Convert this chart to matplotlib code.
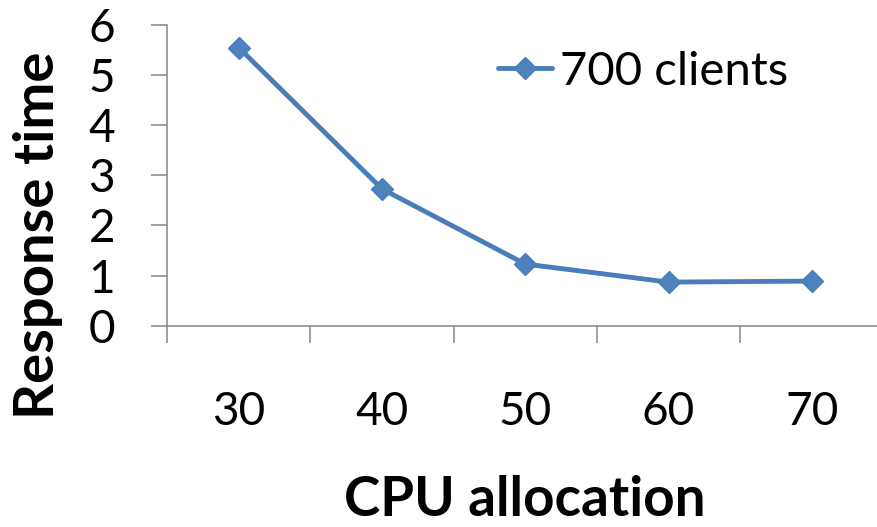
import matplotlib
matplotlib.use("Agg")
import matplotlib.pyplot as plt
from matplotlib.ticker import FixedLocator, NullFormatter

categories = ["30", "40", "50", "60", "70"]
response_700 = [5.55, 2.73, 1.23, 0.87, 0.89]
y_ticks = [0, 1, 2, 3, 4, 5, 6]
series_label = "700 clients"
x_title = "CPU allocation"
y_title = "Response time"

plt.rcParams['font.family'] = ['Lato', 'DejaVu Sans']

W, H = 878, 527
fig = plt.figure(figsize=(W / 100, H / 100), dpi=100)
ax_left, ax_right = 167 / W, 883.5 / W
ax_bottom, ax_top = 1 - 325.7 / H, 1 - 25 / H
ax = fig.add_axes([ax_left, ax_bottom, ax_right - ax_left, ax_top - ax_bottom])

grey = '#868686'
blue_line = '#4A7EBB'
blue_fill = '#4F81BD'

x = list(range(len(categories)))
ax.plot(x, response_700, color=blue_line, lw=3.5, marker='D', markersize=11,
        markerfacecolor=blue_fill, markeredgecolor=blue_line, markeredgewidth=1,
        label=series_label, solid_joinstyle='round', solid_capstyle='round')

ax.set_xlim(-0.5, len(categories) - 0.5)
ax.set_ylim(0, 6)

for s in ['top', 'right']:
    ax.spines[s].set_visible(False)
for s in ['left', 'bottom']:
    ax.spines[s].set_color(grey)
    ax.spines[s].set_linewidth(1.1)

ax.set_xticks(x)
ax.set_xticklabels(categories)
ax.xaxis.set_minor_locator(FixedLocator([i - 0.5 for i in range(len(categories) + 1)]))
ax.xaxis.set_minor_formatter(NullFormatter())
ax.tick_params(axis='x', which='major', length=0, pad=47, labelsize=33)
ax.tick_params(axis='x', which='minor', length=12.2, width=1.1, color=grey, direction='out')

ax.set_yticks(y_ticks)
ax.set_yticklabels([str(v) for v in y_ticks])
ax.tick_params(axis='y', which='major', length=11.5, width=1.1, color=grey,
               direction='out', pad=26, labelsize=33)

ax.set_xlabel(x_title, fontsize=39.5, fontweight='bold')
ax.xaxis.set_label_coords(0.499, -0.4965)
ax.set_ylabel(y_title, fontsize=40.5, fontweight='bold')
ax.yaxis.set_label_coords(-0.145, 0.30)

leg = ax.legend(loc='center left', bbox_to_anchor=(498 / W, 1 - 72 / H),
                bbox_transform=fig.transFigure, frameon=False, fontsize=34,
                handlelength=1.14, handletextpad=0.17, borderpad=0, borderaxespad=0)

fig.savefig('out.png', dpi=100)
